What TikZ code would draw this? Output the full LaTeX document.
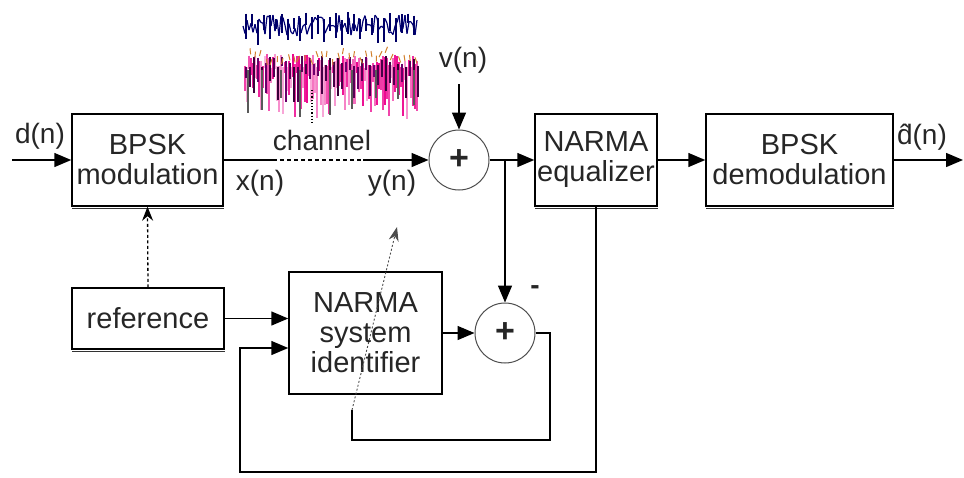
\documentclass[tikz,border=0pt]{standalone}
\usepackage{fontspec}
\setmainfont{Liberation Sans}
\usetikzlibrary{arrows.meta,calc}
\begin{document}
\begin{tikzpicture}[x=1pt,y=-1pt,
  blk/.style={draw, line width=1.5pt, inner sep=0pt, align=center, font=\fontsize{29}{30}\selectfont, text=black!85},
  sumc/.style={draw=black!70, line width=1pt, circle, minimum size=60pt, inner sep=0pt, font=\fontsize{34}{34}\selectfont\bfseries, text=black!85},
  sig/.style={line width=1.5pt, -{Triangle[length=17pt,width=14pt]}},
  wire/.style={line width=1.5pt},
  lbl/.style={font=\fontsize{28}{28}\selectfont, text=black!85, inner sep=0pt},
]
\useasboundingbox (0,0) rectangle (964,477);

% noise picture
\pgfmathsetseed{17}
\foreach \i in {0,...,86}{
  \pgfmathsetmacro{\xx}{245+2*\i}
  \pgfmathsetmacro{\ya}{54+14*rnd}
  \pgfmathsetmacro{\yb}{\ya+10+44*rnd}
  \pgfmathtruncatemacro{\p}{30+70*rnd}
  \draw[line width=1.3pt, magenta!\p!white] (\xx,\ya) -- (\xx,\yb);
}
\foreach \i in {0,...,43}{
  \pgfmathsetmacro{\xx}{246+4*\i}
  \pgfmathsetmacro{\ya}{56+12*rnd}
  \pgfmathsetmacro{\yb}{\ya+8+34*rnd}
  \pgfmathtruncatemacro{\p}{40+50*rnd}
  \draw[line width=1.2pt, violet!\p!black] (\xx,\ya) -- (\xx,\yb);
}
\foreach \i in {0,...,30}{
  \pgfmathsetmacro{\xx}{250+5.5*\i}
  \pgfmathsetmacro{\ya}{44+16*rnd}
  \pgfmathsetmacro{\dx}{-3+6*rnd}
  \draw[line width=1pt, brown!70!orange] (\xx,\ya) -- (\xx+\dx,\ya+6);
}
\xdef\yp{26}
\foreach \i in {0,...,86}{
  \pgfmathsetmacro{\xx}{245+2*\i}
  \pgfmathsetmacro{\yy}{14+22*rnd}
  \draw[line width=1.2pt, blue!45!black] (\xx-2,\yp) -- (\xx,\yy);
  \xdef\yp{\yy}
}
\foreach \i in {0,...,28}{
  \pgfmathsetmacro{\xx}{246+6*\i}
  \pgfmathsetmacro{\ya}{12+8*rnd}
  \pgfmathsetmacro{\yb}{\ya+8+18*rnd}
  \draw[line width=1.4pt, blue!40!black] (\xx,\ya) -- (\xx,\yb);
}
\foreach \xx in {248,262,281,300,330,352,376,398,414}{
  \pgfmathsetmacro{\yb}{95+22*rnd}
  \draw[line width=1.2pt, black!65] (\xx,70) -- (\xx,\yb);
}
\coordinate (np) at (312,90);
\coordinate (nq) at (312,123);
\draw[line width=1.2pt, dotted] (np) -- (nq);

% blocks
\node[blk, minimum width=151pt, minimum height=92pt] (mod) at (147.5,160) {BPSK\\modulation};
\node[blk, minimum width=122pt, minimum height=92pt] (eq) at (596,160) {NARMA\\equalizer};
\node[blk, minimum width=187pt, minimum height=92pt] (demod) at (799.5,160) {BPSK\\demodulation};
\node[blk, minimum width=152pt, minimum height=61pt] (ref) at (148,318.5) {reference};
\node[blk, minimum width=153pt, minimum height=122pt] (ident) at (365.5,333) {NARMA\\system\\identifier};
\foreach \n in {mod,eq,demod,ref}{
  \draw[line width=1.2pt, black!80] ([yshift=-1.6pt,xshift=1pt]\n.south west) -- ([yshift=-1.6pt]\n.south east);
}
\node[sumc] (s1) at (459,160) {+};
\node[sumc] (s2) at (505,333) {+};

% connectors
\coordinate (din) at (12,160);
\draw[sig] (din) -- (mod.west);
\coordinate (c1) at (273,160);
\coordinate (c2) at (363,160);
\draw[wire] (mod.east) -- (c1);
\draw[wire, dash pattern=on 4pt off 3pt] (c1) -- (c2);
\draw[sig] (c2) -- (s1.west);
\coordinate (vn) at (459,84);
\draw[sig] (vn) -- (s1.north);
\draw[sig] (s1.east) -- (eq.west);
\coordinate (j) at (505,160);
\draw[sig] (j) -- (s2.north);
\draw[sig] (eq.east) -- (demod.west);
\coordinate (dout) at (963,160);
\draw[sig] (demod.east) -- (dout);
\draw[line width=1.3pt, dash pattern=on 3pt off 2.5pt, -{Stealth[length=14pt,width=11pt]}] (ref.north) -- (mod.south);
\draw[sig] (ref.east) -- (ref.east -| ident.west);
\draw[sig] (ident.east |- s2.west) -- (s2.west);
\coordinate (e1) at (550,440);
\coordinate (e2) at (352,410);
\draw[wire] (s2.east) -| (e1) -| (e2);
\coordinate (a2) at (397,227);
\draw[line width=0.9pt, black!70, dash pattern=on 2pt off 2pt, -{Stealth[length=14pt,width=10pt]}] (e2) -- (a2);
\coordinate (b1) at (240,472);
\draw[sig] (eq.south) |- (b1) |- ([yshift=-15pt]ident.west);

% labels
\node[lbl] (ld) at (40,136) {d(n)};
\node[lbl] (lx) at (260,183) {x(n)};
\node[lbl] (ly) at (392,183) {y(n)};
\node[lbl] (lch) at (322,140) {channel};
\node[lbl] (lv) at (463,60) {v(n)};
\node[lbl] (ldh) at (922,137) {\^{d}(n)};
\node[lbl, font=\fontsize{28}{28}\selectfont\bfseries] (lm) at (535,290) {-};
\end{tikzpicture}
\end{document}
